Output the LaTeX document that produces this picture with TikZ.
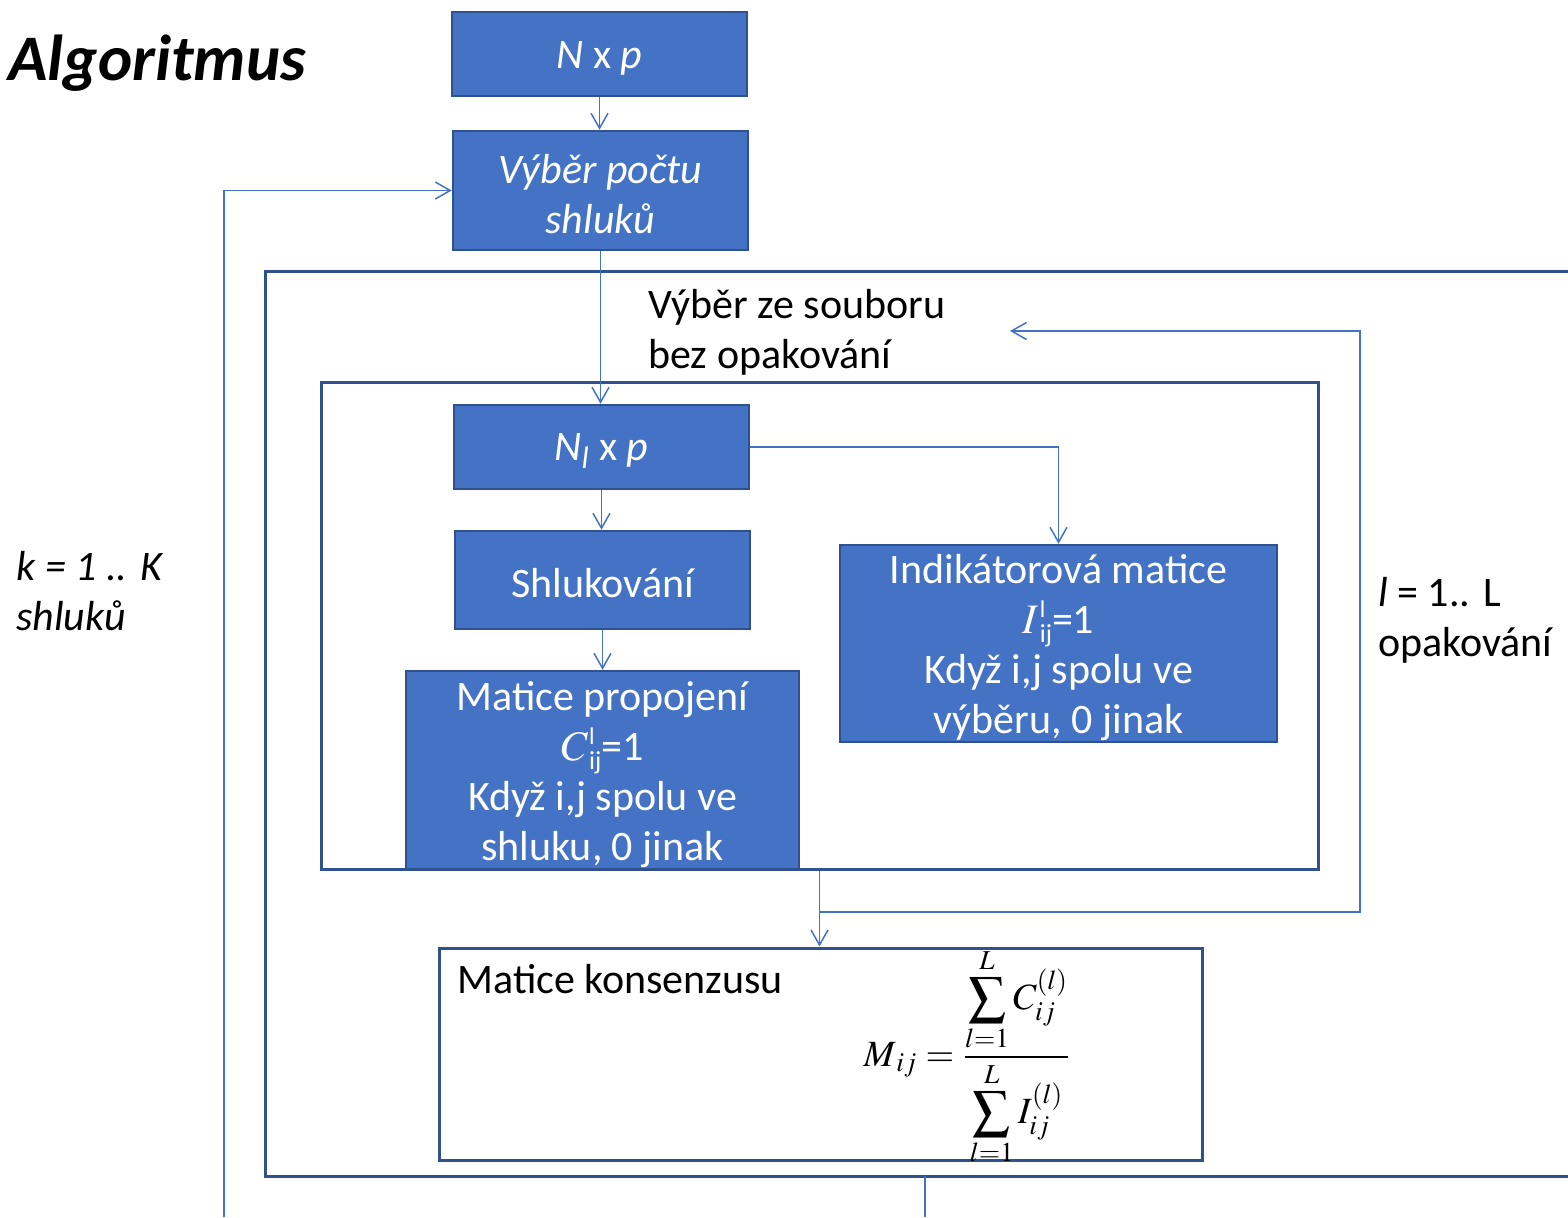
\documentclass[tikz,border=0pt]{standalone}
\usepackage{mathptmx}
\usepackage[no-math]{fontspec}
\setmainfont{Carlito}
\usetikzlibrary{arrows.meta}
\definecolor{boxfill}{HTML}{4472C4}
\definecolor{boxline}{HTML}{2F528F}
\definecolor{connc}{HTML}{4472C4}
\newcommand\supfnt{\fontsize{12}{12}\selectfont}
\newcommand\subfnt{\fontsize{13}{13}\selectfont}
\newcommand\idx[1]{$#1$\kern0.5pt\rlap{\raisebox{8pt}{\supfnt l}}\raisebox{-4.5pt}{\subfnt ij}}
\newcommand\tstr[1]{\rule{0pt}{#1}}
\begin{document}
\begin{tikzpicture}[x=0.5pt,y=-0.5pt,
  bx/.style={draw=boxline, fill=boxfill, line width=1.25pt, text=white, align=center, inner sep=0pt, font=\fontsize{21}{25}\selectfont},
  frame/.style={draw=boxline, line width=1.5pt, inner sep=0pt},
  conn/.style={draw=connc, line width=0.75pt, -{Straight Barb[length=7.5pt,width=8.5pt]}},
  plain/.style={draw=connc, line width=0.75pt},
  lbl/.style={inner sep=0pt, align=left, font=\fontsize{21}{25}\selectfont}]
\useasboundingbox (0,0) rectangle (1568,1217);
% frames
\node[frame, minimum width=667.5pt, minimum height=452.5pt] (outer) at (932.5,723.5) {};
\node[frame, minimum width=498.5pt, minimum height=243.5pt] (inner) at (819.5,625.5) {};
% labels (base anchor = baseline of last line)
\node[lbl, anchor=base west, font=\fontsize{32.5}{40}\selectfont\bfseries\itshape] (title) at (8,80) {Algoritmus};
\node[lbl, anchor=base west] (vyber) at (648,368) {Výběr ze souboru\\bez opakování};
\node[lbl, anchor=base west, font=\fontsize{21}{25}\selectfont\itshape] (klbl) at (16,630) {k = 1 .. K\\shluků};
\node[lbl, anchor=base west] (llbl) at (1378,656) {\textit{l} = 1.. L\\opakování};
% boxes
\node[bx, minimum width=147.5pt, minimum height=42pt] (n1) at (599.5,54) {\tstr{17.5pt}\textit{N} x \textit{p}};
\node[bx, minimum width=147.5pt, minimum height=59.5pt, font=\fontsize{21}{25}\selectfont\itshape] (n2) at (600.5,190.5) {\tstr{18.5pt}Výběr počtu\\shluků};
\node[bx, minimum width=147.5pt, minimum height=42pt] (nl) at (601.5,447) {\tstr{17.5pt}\textit{N}\textsubscript{\textit{l}} x \textit{p}};
\node[bx, minimum width=147.5pt, minimum height=49pt] (sh) at (602.5,580) {\tstr{17.5pt}Shlukování};
\node[bx, minimum width=196.5pt, minimum height=99pt] (mp) at (602.5,770) {\tstr{19.5pt}Matice propojení\\\idx{C}=1\\Když i,j spolu ve\\shluku, 0 jinak};
\node[bx, minimum width=218.5pt, minimum height=98.5pt] (ind) at (1058.5,643.5) {\tstr{19pt}Indikátorová matice\\\idx{I}=1\\Když i,j spolu ve\\výběru, 0 jinak};
\node[draw=boxline, line width=1.5pt, fill=white, minimum width=381.5pt, minimum height=106pt, inner sep=0pt] (cons) at (820.5,1054) {};
\node[lbl, anchor=base west] (conslbl) at (457,993) {Matice konsenzusu};
\node[inner sep=0pt, font=\fontsize{18.5}{22}\selectfont] (formula) at (967,1057)
  {$\displaystyle M_{\,ij}=\frac{\displaystyle\sum_{l=1}^{L}C_{ij}^{(l)}}{\displaystyle\sum_{l=1}^{L}I_{ij}^{(l)}}$};
% connectors
\draw[conn] (n1.south) -- (n1.south |- n2.north);
\draw[conn] (n2.south) -- (n2.south |- nl.north);
\draw[conn] (nl.south) -- (nl.south |- sh.north);
\draw[conn] (sh.south) -- (sh.south |- mp.north);
\draw[conn] (nl.east) -| (ind.north);
\draw[conn] (inner.south) -- (inner.south |- cons.north);
\coordinate (fbA) at (819.5,912);
\coordinate (fbB) at (1360,912);
\coordinate (fbC) at (1360,331);
\coordinate (fbD) at (1010,331);
\draw[conn] (fbA) -- (fbB) -- (fbC) -- (fbD);
\coordinate (kA) at (224,1217);
\draw[conn] (kA) |- (n2.west);
\coordinate (kC) at (925,1176);
\coordinate (kD) at (925,1217);
\draw[plain] (kC) -- (kD);
\end{tikzpicture}
\end{document}
